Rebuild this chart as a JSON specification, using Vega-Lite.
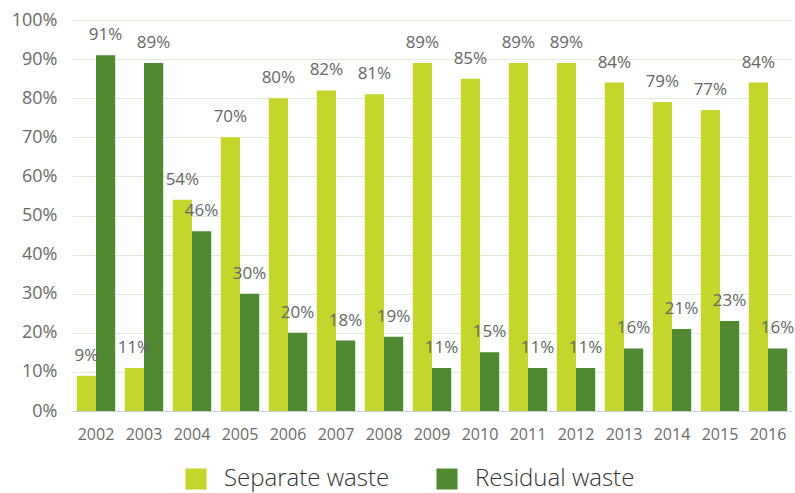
{
  "$schema": "https://vega.github.io/schema/vega-lite/v6.json",
  "width": 720,
  "height": 391,
  "autosize": "none",
  "padding": {"left": 72, "top": 20, "right": 3, "bottom": 82},
  "background": "white",
  "config": {"view": {"stroke": null}, "font": "Open Sans"},
  "data": {"values": [
    {"year": "2002", "type": "Separate waste", "value": 9},
    {"year": "2002", "type": "Residual waste", "value": 91},
    {"year": "2003", "type": "Separate waste", "value": 11},
    {"year": "2003", "type": "Residual waste", "value": 89},
    {"year": "2004", "type": "Separate waste", "value": 54},
    {"year": "2004", "type": "Residual waste", "value": 46},
    {"year": "2005", "type": "Separate waste", "value": 70},
    {"year": "2005", "type": "Residual waste", "value": 30},
    {"year": "2006", "type": "Separate waste", "value": 80},
    {"year": "2006", "type": "Residual waste", "value": 20},
    {"year": "2007", "type": "Separate waste", "value": 82},
    {"year": "2007", "type": "Residual waste", "value": 18},
    {"year": "2008", "type": "Separate waste", "value": 81},
    {"year": "2008", "type": "Residual waste", "value": 19},
    {"year": "2009", "type": "Separate waste", "value": 89},
    {"year": "2009", "type": "Residual waste", "value": 11},
    {"year": "2010", "type": "Separate waste", "value": 85},
    {"year": "2010", "type": "Residual waste", "value": 15},
    {"year": "2011", "type": "Separate waste", "value": 89},
    {"year": "2011", "type": "Residual waste", "value": 11},
    {"year": "2012", "type": "Separate waste", "value": 89},
    {"year": "2012", "type": "Residual waste", "value": 11},
    {"year": "2013", "type": "Separate waste", "value": 84},
    {"year": "2013", "type": "Residual waste", "value": 16},
    {"year": "2014", "type": "Separate waste", "value": 79},
    {"year": "2014", "type": "Residual waste", "value": 21},
    {"year": "2015", "type": "Separate waste", "value": 77},
    {"year": "2015", "type": "Residual waste", "value": 23},
    {"year": "2016", "type": "Separate waste", "value": 84},
    {"year": "2016", "type": "Residual waste", "value": 16}
  ]},
  "encoding": {
    "x": {
      "field": "year", "type": "nominal", "title": null,
      "scale": {"paddingInner": 0.2, "paddingOuter": 0.1},
      "axis": {"labelAngle": 0, "ticks": false, "domain": true, "domainColor": "#c8ccd4", "labelPadding": 15, "labelFontSize": 16, "labelColor": "#6a6a6a", "labelFont": "Open Sans"}
    },
    "xOffset": {"field": "type", "type": "nominal", "sort": ["Separate waste", "Residual waste"]},
    "y": {
      "field": "value", "type": "quantitative", "title": null,
      "scale": {"domain": [0, 100]},
      "axis": {"values": [0,10,20,30,40,50,60,70,80,90,100], "labelExpr": "datum.value + '%'", "ticks": false, "domain": false, "labelPadding": 15, "labelFontSize": 18, "labelColor": "#6a6a6a", "gridColor": "#e2eadc", "gridWidth": 1}
    }
  },
  "layer": [
    {
      "mark": {"type": "bar"},
      "encoding": {
        "color": {
          "field": "type", "type": "nominal", "title": null,
          "sort": ["Separate waste", "Residual waste"],
          "scale": {"domain": ["Separate waste", "Residual waste"], "range": ["#c4d52b", "#4f8a32"]},
          "legend": {"orient": "none", "direction": "horizontal", "legendX": 112, "legendY": 447, "symbolType": "square", "symbolSize": 441, "symbolStrokeWidth": 0, "symbolOpacity": 1, "labelFontSize": 24, "labelFontWeight": 300, "labelColor": "#333333", "labelFont": "Open Sans", "labelOffset": 16, "columnPadding": 45, "labelLimit": 300}
        }
      }
    },
    {
      "mark": {"type": "text", "baseline": "middle", "dy": -20, "fontSize": 17, "color": "#666666", "font": "Open Sans"},
      "encoding": {
        "text": {"field": "label", "type": "nominal"},
        "detail": {"field": "type"}
      },
      "transform": [{"calculate": "datum.value + '%'", "as": "label"}]
    }
  ]
}
